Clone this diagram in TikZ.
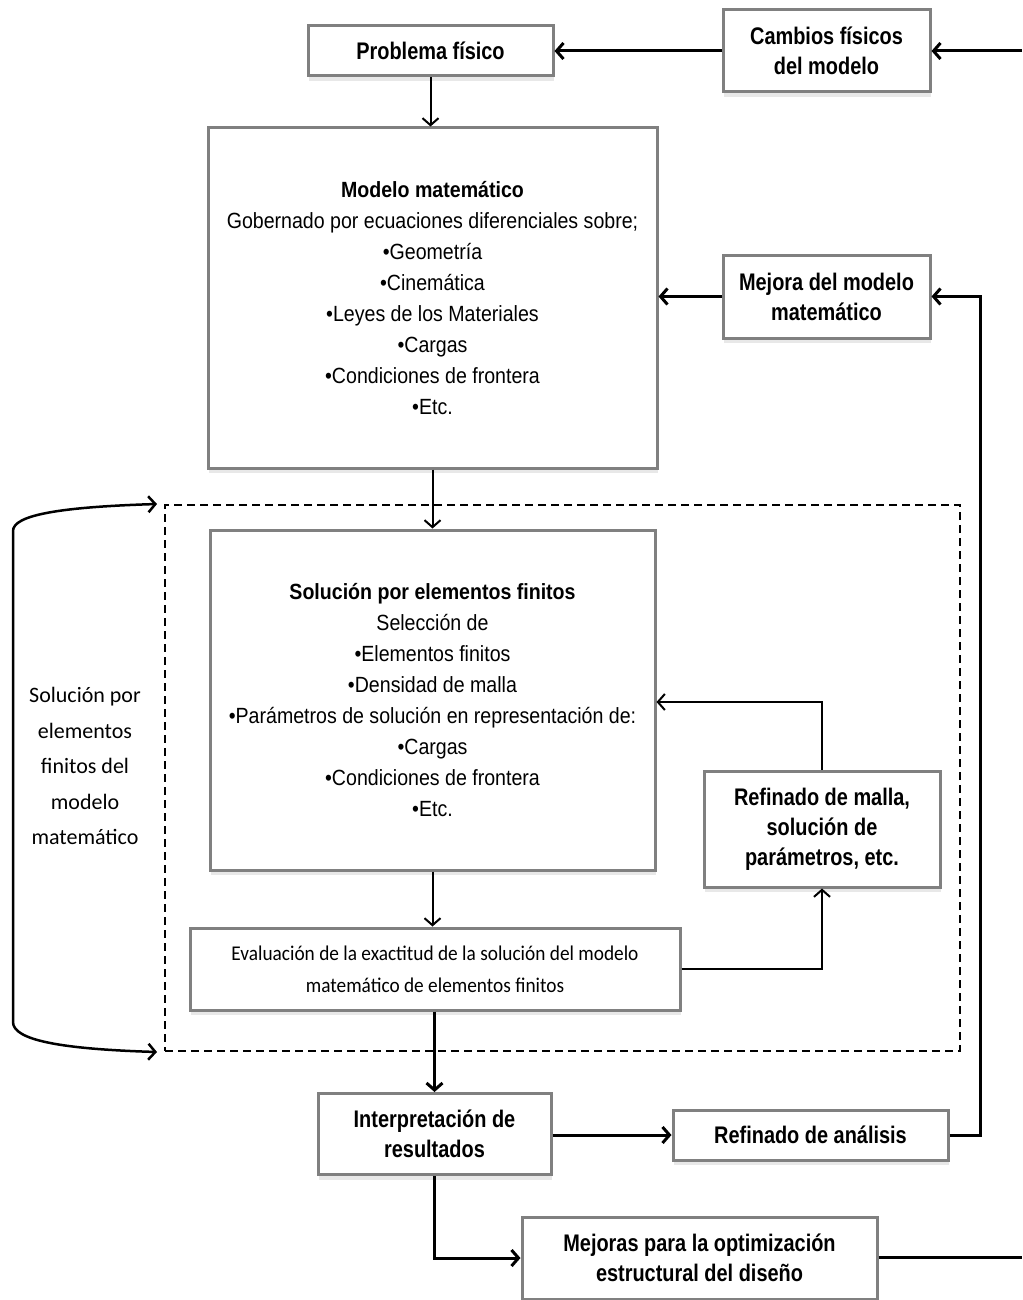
\documentclass[tikz,border=0pt]{standalone}
\usepackage{fontspec}
\setmainfont{Liberation Sans}
\newfontfamily\boxfont[FakeStretch=0.83]{Liberation Sans}
\newfontfamily\bodyfont[FakeStretch=0.89]{Liberation Sans}
\newfontfamily\califont[FakeStretch=0.92]{Carlito}
\newfontfamily\labelfont{Carlito}
\usetikzlibrary{arrows.meta,shadows}
\definecolor{boxgray}{RGB}{128,128,128}
\tikzset{
  box/.style={draw=boxgray, line width=3pt, fill=white, align=center, inner sep=0pt,
    drop shadow={shadow xshift=1pt, shadow yshift=-5pt, opacity=0.18},
    font=\boxfont\bfseries\fontsize{24}{30}\selectfont},
  bigbox/.style={box, font=\bodyfont\fontsize{22}{31}\selectfont},
  evalbox/.style={box, font=\califont\fontsize{21}{32}\selectfont},
  thinconn/.style={line width=2pt, -{Straight Barb[length=7pt,width=16pt]}},
  thickconn/.style={line width=3pt, -{Straight Barb[length=7pt,width=16pt]}},
  plainline/.style={line width=3pt},
  frame/.style={draw, line width=2.5pt, dash pattern=on 8pt off 5pt, inner sep=0pt},
}
\begin{document}
\begin{tikzpicture}[x=1pt,y=-1pt]
\useasboundingbox (0,0) rectangle (1022,1300);

% dashed frame
\node[frame, minimum width=795pt, minimum height=546pt] (fr) at (562.5,778) {};

% boxes
\node[box, minimum width=245pt, minimum height=50pt] (prob) at (430.5,51) {Problema físico};
\node[box, minimum width=207pt, minimum height=82pt] (camb) at (826.5,51) {Cambios físicos\\del modelo};
\node[bigbox, minimum width=449pt, minimum height=340pt] (mod) at (432.5,298)
  {{\bfseries Modelo matemático}\\Gobernado por ecuaciones diferenciales sobre;\\•Geometría\\•Cinemática\\•Leyes de los Materiales\\•Cargas\\•Condiciones de frontera\\•Etc.};
\node[box, minimum width=207pt, minimum height=83pt] (mej) at (826.5,296.5) {Mejora del modelo\\matemático};
\node[bigbox, minimum width=445pt, minimum height=340pt] (sol) at (432.5,700)
  {{\bfseries Solución por elementos finitos}\\Selección de\\•Elementos finitos\\•Densidad de malla\\•Parámetros de solución en representación de:\\•Cargas\\•Condiciones de frontera\\•Etc.};
\node[box, minimum width=236pt, minimum height=116pt] (refm) at (822,829) {Refinado de malla,\\solución de\\parámetros, etc.};
\node[evalbox, minimum width=490pt, minimum height=82pt] (eval) at (435,969)
  {Evaluación de la exactitud de la solución del modelo\\matemático de elementos finitos};
\node[box, minimum width=233pt, minimum height=81pt] (interp) at (434.5,1134) {Interpretación de\\resultados};
\node[box, minimum width=275pt, minimum height=50pt] (refa) at (810.5,1135) {Refinado de análisis};
\node[box, minimum width=355pt, minimum height=82pt] (mejs) at (699.5,1258) {Mejoras para la optimización\\estructural del diseño};

% left label
\node[align=center, font=\labelfont\fontsize{22}{35.5}\selectfont] (lab) at (85,766)
  {Solución por\\elementos\\finitos del\\modelo\\matemático};

% free ends
\coordinate (rtop) at (1022,51);
\coordinate (rbot) at (1022,1257);
\coordinate (bt1) at (157,504);
\coordinate (bt2) at (157,1052);

% connectors
\draw[thickconn] (rtop) -- (camb.east);
\draw[thickconn] (camb.west) -- (prob.east);
\draw[thinconn] (prob.south) -- (prob.south |- mod.north);
\draw[thickconn] (mej.west) -- (mod.east |- mej.west);
\draw[thinconn] (mod.south) -- (sol.north);
\draw[thinconn] (sol.south) -- (eval.north -| sol.south);
\draw[thinconn] (eval.east) -| (refm.south);
\draw[thinconn] (refm.north) |- (sol.east |- 0,702);
\draw[thickconn] (eval.south -| interp.north) -- (interp.north);
\draw[thickconn] (interp.east |- refa.west) -- (refa.west);
\draw[thickconn] (refa.east) -- (980,1135) |- (mej.east);
\draw[thickconn] (interp.south) |- (mejs.west);
\draw[plainline] (mejs.east |- rbot) -- (rbot);

% bracket
\draw[line width=2.5pt, {Straight Barb[length=7pt,width=16pt]}-{Straight Barb[length=7pt,width=16pt]}]
  (bt1) .. controls (60,507) and (13,515) .. (13,531) -- (13,1022)
  .. controls (13,1040) and (60,1049) .. (bt2);
\end{tikzpicture}
\end{document}
